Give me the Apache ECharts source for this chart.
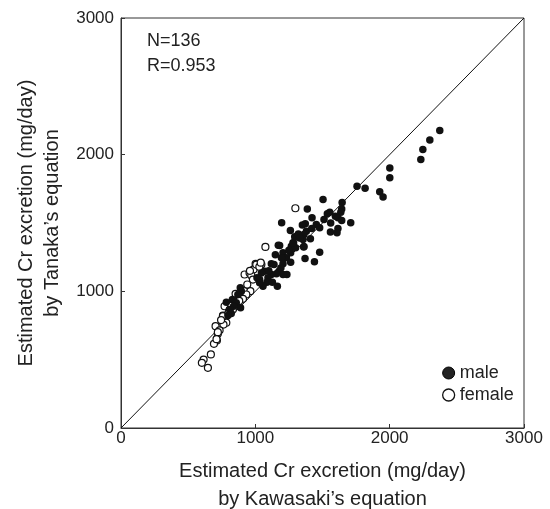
<!DOCTYPE html>
<html>
<head>
<meta charset="utf-8">
<script src="https://cdn.jsdelivr.net/npm/echarts@6/dist/echarts.min.js"></script>
<style>
  html, body { margin: 0; padding: 0; background: #fff; }
  #chart { width: 550px; height: 509px; }
</style>
</head>
<body>
<div id="chart"></div>
<script>
// values: [Kawasaki, Tanaka] in mg/day
var maleData = [
  [2373, 2176], [2299, 2108], [2247, 2037], [2232, 1964], [2001, 1903],
  [2001, 1832], [1926, 1728], [1951, 1691], [1757, 1769], [1817, 1754],
  [1504, 1672], [1646, 1650], [1643, 1603], [1636, 1579], [1387, 1603],
  [1422, 1538], [1196, 1501], [1710, 1501], [1554, 1579], [1536, 1567],
  [1596, 1549], [1615, 1538], [1643, 1518], [1511, 1525], [1561, 1500],
  [1454, 1489], [1479, 1465], [1372, 1494], [1350, 1486], [1261, 1445],
  [1380, 1440], [1559, 1435], [1615, 1459], [1608, 1428], [1362, 1415],
  [1293, 1399], [1410, 1384], [1355, 1379], [1285, 1355], [1268, 1330],
  [1362, 1328], [1300, 1318], [1181, 1335], [1171, 1337], [1280, 1355],
  [1479, 1286], [1360, 1325], [1370, 1240], [1440, 1216], [1149, 1267],
  [1206, 1282], [1263, 1282], [1231, 1245], [1194, 1245], [1263, 1213],
  [1206, 1201], [1119, 1201], [1139, 1196], [1176, 1147], [1235, 1123],
  [1206, 1123], [1157, 1128], [1119, 1123], [1069, 1147], [1045, 1135],
  [1094, 1099], [1032, 1086], [1012, 1099], [1086, 1066], [1127, 1066],
  [1057, 1037], [1164, 1037], [1032, 1062], [888, 1026], [896, 1001],
  [870, 977], [829, 940], [858, 916], [890, 879], [838, 891],
  [808, 867], [784, 920], [821, 838], [796, 823], [1320, 1420],
  [1420, 1460], [1250, 1300], [1100, 1150], [1190, 1170], [1330, 1390]
];
var femaleData = [
  [1298, 1608], [1075, 1325], [1002, 1201], [1045, 1196], [1012, 1184],
  [987, 1160], [920, 1123], [957, 1135], [970, 1116], [982, 1086],
  [853, 982], [896, 964], [920, 1001], [963, 1001], [933, 977],
  [908, 945], [771, 891], [821, 896], [833, 867], [808, 862],
  [784, 818], [759, 823], [771, 786], [754, 781], [784, 770],
  [763, 757], [704, 745], [734, 715], [721, 689], [714, 640],
  [692, 616], [669, 538], [615, 501], [602, 477], [647, 440],
  [1007, 1196], [759, 818], [721, 701], [711, 650], [940, 1050],
  [1030, 1180], [880, 930], [800, 840], [960, 1150], [1040, 1210],
  [745, 790]
];
var identityLine = [[0, 0], [3000, 3000]];
var axisTicks = [0, 1000, 2000, 3000];

var font = 'Liberation Sans, Arial, Helvetica, sans-serif';
var chart = echarts.init(document.getElementById('chart'));

chart.setOption({
  animation: false,
  textStyle: { fontFamily: font },
  grid: {
    left: 121, right: 26, top: 18, bottom: 81,
    outerBoundsMode: 'none',
    show: true, borderColor: '#333', borderWidth: 1
  },
  xAxis: {
    type: 'value',
    min: axisTicks[0],
    max: axisTicks[axisTicks.length - 1],
    interval: 1000,
    name: 'Estimated Cr excretion (mg/day)\nby Kawasaki\u2019s equation',
    nameLocation: 'middle',
    nameGap: 29,
    nameTextStyle: { fontSize: 20, color: '#222', lineHeight: 28, fontFamily: font },
    axisLine: { lineStyle: { color: '#333', width: 1 } },
    axisTick: { inside: true, length: 4, lineStyle: { color: '#333' } },
    axisLabel: { fontSize: 17, color: '#222', margin: 2, fontFamily: font, formatter: function (v) { return String(v); } },
    splitLine: { show: false }
  },
  yAxis: {
    type: 'value',
    min: axisTicks[0],
    max: axisTicks[axisTicks.length - 1],
    interval: 1000,
    name: 'Estimated Cr excretion (mg/day)\nby Tanaka\u2019s equation',
    nameLocation: 'middle',
    nameGap: 52,
    nameTextStyle: { fontSize: 20, color: '#222', lineHeight: 26, fontFamily: font },
    axisLine: { lineStyle: { color: '#333', width: 1 } },
    axisTick: { inside: true, length: 4, lineStyle: { color: '#333' } },
    axisLabel: { fontSize: 17, color: '#222', margin: 7, fontFamily: font, formatter: function (v) { return String(v); } },
    splitLine: { show: false }
  },
  legend: {
    orient: 'vertical',
    left: 437,
    top: 359,
    itemWidth: 12,
    itemHeight: 12,
    itemGap: 4,
    textStyle: { fontSize: 18, color: '#222', fontFamily: font },
    data: [
      { name: 'male', icon: 'circle', itemStyle: { color: '#222', borderColor: '#000', borderWidth: 1 } },
      { name: 'female', icon: 'circle', itemStyle: { color: '#fff', borderColor: '#111', borderWidth: 1.3 } }
    ]
  },
  graphic: [
    { type: 'text', left: 147, top: 32, style: { text: 'N=136', fontSize: 18, fill: '#222', fontFamily: font } },
    { type: 'text', left: 147, top: 57, style: { text: 'R=0.953', fontSize: 18, fill: '#222', fontFamily: font } }
  ],
  series: [
    {
      name: 'identity',
      type: 'line',
      data: identityLine,
      symbol: 'none',
      lineStyle: { color: '#111', width: 1 },
      silent: true,
      z: 1
    },
    {
      name: 'female',
      type: 'scatter',
      data: femaleData,
      symbolSize: 7,
      itemStyle: { color: '#fff', borderColor: '#111', borderWidth: 1.2, opacity: 1 },
      z: 2
    },
    {
      name: 'male',
      type: 'scatter',
      data: maleData,
      symbolSize: 7.5,
      itemStyle: { color: '#111', opacity: 1 },
      z: 3
    }
  ]
});
</script>
</body>
</html>
